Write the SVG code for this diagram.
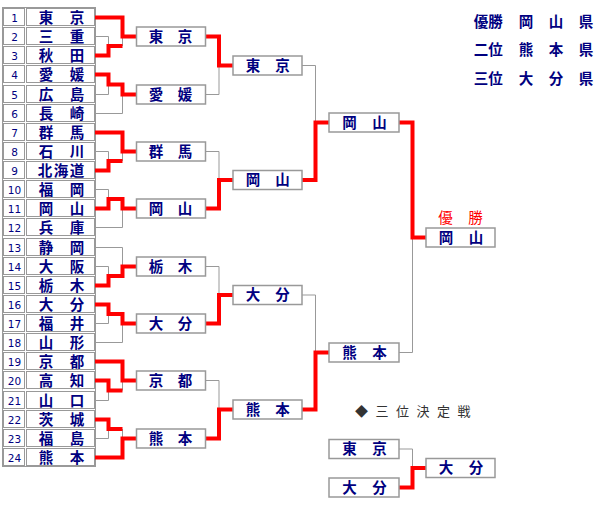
<svg xmlns="http://www.w3.org/2000/svg" width="600" height="510" viewBox="0 0 600 510">
<style>
.cell{fill:#fff;stroke:#999;stroke-width:1}
.box{fill:#fff;stroke:#999;stroke-width:1.5}
.num{font-family:"DejaVu Sans",sans-serif;font-size:10.5px;fill:#000080;text-anchor:middle}
.nm{font-family:"Noto Sans CJK JP",sans-serif;font-size:14.5px;font-weight:bold;fill:#000080;text-anchor:middle}
.lg{font-family:"Noto Sans CJK JP",sans-serif;font-size:14.5px;font-weight:bold;fill:#000080;text-anchor:middle}
.win{font-family:"Noto Sans CJK JP",sans-serif;font-size:14.5px;fill:#ff0000;text-anchor:middle}
.ttl{font-family:"Noto Sans CJK JP",sans-serif;font-size:13px;fill:#333;text-anchor:middle}
.g{fill:none;stroke:#999;stroke-width:1}
.r{fill:none;stroke:#ff0000;stroke-width:4;stroke-linejoin:miter}
</style>
<rect x="0" y="0" width="600" height="510" fill="#fff"/>

<!-- legend -->
<g id="legend">
<text class="lg" x="481 495.5 526 556 586" y="26.5">優勝岡山県</text>
<text class="lg" x="481 495.5 526 556 586" y="55">二位熊本県</text>
<text class="lg" x="481 495.5 526 556 586" y="83.5">三位大分県</text>
</g>

<!-- table -->
<g id="table">
<rect x="2.5" y="7.5" width="93" height="459" fill="#fff" stroke="#999"/>
<g id="team-1"><rect class="cell" x="3.5" y="8.5" width="21" height="17"/><rect class="cell" x="26.5" y="8.5" width="68" height="17"/><text class="num" x="14.5" y="21.5">1</text><text class="nm" x="46 77" y="22.5">東京</text></g>
<g id="team-2"><rect class="cell" x="3.5" y="27.5" width="21" height="17"/><rect class="cell" x="26.5" y="27.5" width="68" height="17"/><text class="num" x="14.5" y="40.5">2</text><text class="nm" x="46 77" y="41.5">三重</text></g>
<g id="team-3"><rect class="cell" x="3.5" y="46.5" width="21" height="17"/><rect class="cell" x="26.5" y="46.5" width="68" height="17"/><text class="num" x="14.5" y="59.5">3</text><text class="nm" x="46 77" y="60.5">秋田</text></g>
<g id="team-4"><rect class="cell" x="3.5" y="65.5" width="21" height="17"/><rect class="cell" x="26.5" y="65.5" width="68" height="17"/><text class="num" x="14.5" y="78.5">4</text><text class="nm" x="46 77" y="79.5">愛媛</text></g>
<g id="team-5"><rect class="cell" x="3.5" y="85.5" width="21" height="17"/><rect class="cell" x="26.5" y="85.5" width="68" height="17"/><text class="num" x="14.5" y="98.5">5</text><text class="nm" x="46 77" y="99.5">広島</text></g>
<g id="team-6"><rect class="cell" x="3.5" y="104.5" width="21" height="17"/><rect class="cell" x="26.5" y="104.5" width="68" height="17"/><text class="num" x="14.5" y="117.5">6</text><text class="nm" x="46 77" y="118.5">長崎</text></g>
<g id="team-7"><rect class="cell" x="3.5" y="123.5" width="21" height="17"/><rect class="cell" x="26.5" y="123.5" width="68" height="17"/><text class="num" x="14.5" y="136.5">7</text><text class="nm" x="46 77" y="137.5">群馬</text></g>
<g id="team-8"><rect class="cell" x="3.5" y="142.5" width="21" height="17"/><rect class="cell" x="26.5" y="142.5" width="68" height="17"/><text class="num" x="14.5" y="155.5">8</text><text class="nm" x="46 77" y="156.5">石川</text></g>
<g id="team-9"><rect class="cell" x="3.5" y="161.5" width="21" height="17"/><rect class="cell" x="26.5" y="161.5" width="68" height="17"/><text class="num" x="14.5" y="174.5">9</text><text class="nm" x="45 61 77" y="175.5">北海道</text></g>
<g id="team-10"><rect class="cell" x="3.5" y="180.5" width="21" height="17"/><rect class="cell" x="26.5" y="180.5" width="68" height="17"/><text class="num" x="14.5" y="193.5">10</text><text class="nm" x="46 77" y="194.5">福岡</text></g>
<g id="team-11"><rect class="cell" x="3.5" y="199.5" width="21" height="17"/><rect class="cell" x="26.5" y="199.5" width="68" height="17"/><text class="num" x="14.5" y="212.5">11</text><text class="nm" x="46 77" y="213.5">岡山</text></g>
<g id="team-12"><rect class="cell" x="3.5" y="218.5" width="21" height="17"/><rect class="cell" x="26.5" y="218.5" width="68" height="17"/><text class="num" x="14.5" y="231.5">12</text><text class="nm" x="46 77" y="232.5">兵庫</text></g>
<g id="team-13"><rect class="cell" x="3.5" y="238.5" width="21" height="17"/><rect class="cell" x="26.5" y="238.5" width="68" height="17"/><text class="num" x="14.5" y="251.5">13</text><text class="nm" x="46 77" y="252.5">静岡</text></g>
<g id="team-14"><rect class="cell" x="3.5" y="257.5" width="21" height="17"/><rect class="cell" x="26.5" y="257.5" width="68" height="17"/><text class="num" x="14.5" y="270.5">14</text><text class="nm" x="46 77" y="271.5">大阪</text></g>
<g id="team-15"><rect class="cell" x="3.5" y="276.5" width="21" height="17"/><rect class="cell" x="26.5" y="276.5" width="68" height="17"/><text class="num" x="14.5" y="289.5">15</text><text class="nm" x="46 77" y="290.5">栃木</text></g>
<g id="team-16"><rect class="cell" x="3.5" y="295.5" width="21" height="17"/><rect class="cell" x="26.5" y="295.5" width="68" height="17"/><text class="num" x="14.5" y="308.5">16</text><text class="nm" x="46 77" y="309.5">大分</text></g>
<g id="team-17"><rect class="cell" x="3.5" y="314.5" width="21" height="17"/><rect class="cell" x="26.5" y="314.5" width="68" height="17"/><text class="num" x="14.5" y="327.5">17</text><text class="nm" x="46 77" y="328.5">福井</text></g>
<g id="team-18"><rect class="cell" x="3.5" y="333.5" width="21" height="17"/><rect class="cell" x="26.5" y="333.5" width="68" height="17"/><text class="num" x="14.5" y="346.5">18</text><text class="nm" x="46 77" y="347.5">山形</text></g>
<g id="team-19"><rect class="cell" x="3.5" y="352.5" width="21" height="17"/><rect class="cell" x="26.5" y="352.5" width="68" height="17"/><text class="num" x="14.5" y="365.5">19</text><text class="nm" x="46 77" y="366.5">京都</text></g>
<g id="team-20"><rect class="cell" x="3.5" y="371.5" width="21" height="17"/><rect class="cell" x="26.5" y="371.5" width="68" height="17"/><text class="num" x="14.5" y="384.5">20</text><text class="nm" x="46 77" y="385.5">高知</text></g>
<g id="team-21"><rect class="cell" x="3.5" y="391.5" width="21" height="17"/><rect class="cell" x="26.5" y="391.5" width="68" height="17"/><text class="num" x="14.5" y="404.5">21</text><text class="nm" x="46 77" y="405.5">山口</text></g>
<g id="team-22"><rect class="cell" x="3.5" y="410.5" width="21" height="17"/><rect class="cell" x="26.5" y="410.5" width="68" height="17"/><text class="num" x="14.5" y="423.5">22</text><text class="nm" x="46 77" y="424.5">茨城</text></g>
<g id="team-23"><rect class="cell" x="3.5" y="429.5" width="21" height="17"/><rect class="cell" x="26.5" y="429.5" width="68" height="17"/><text class="num" x="14.5" y="442.5">23</text><text class="nm" x="46 77" y="443.5">福島</text></g>
<g id="team-24"><rect class="cell" x="3.5" y="448.5" width="21" height="17"/><rect class="cell" x="26.5" y="448.5" width="68" height="17"/><text class="num" x="14.5" y="461.5">24</text><text class="nm" x="46 77" y="462.5">熊本</text></g>
</g>

<!-- connectors -->
<g id="connectors">
<path class="g" d="M95,36.5H108.5V46M122.5,36.5V46"/>
<path class="g" d="M95,94.5H108.5V84.5M95,113.5H122.5V94.5"/>
<path class="g" d="M95,151.5H108.5V161M122.5,151.5V161"/>
<path class="g" d="M95,189.5H108.5V199M95,227.5H122.5V208.5"/>
<path class="g" d="M95,266.5H108.5V276M95,247.5H122.5V266.5"/>
<path class="g" d="M95,323.5H108.5V314M95,342.5H122.5V323.5"/>
<path class="g" d="M95,400.5H108.5V390.5M122.5,380.5V390.5"/>
<path class="g" d="M95,438.5H108.5V429M122.5,429V438.5"/>
<path class="g" d="M205.5,94.5H219V65.5"/>
<path class="g" d="M205.5,151.5H219V180"/>
<path class="g" d="M205.5,266.5H219V295"/>
<path class="g" d="M205.5,380.5H219V409.5"/>
<path class="g" d="M302,65.5H315.5V122.5"/>
<path class="g" d="M302,295H315.5V352.5"/>
<path class="g" d="M399,352.5H412.5V237.5"/>
<path class="g" d="M399,449H412.5V468"/>

<path class="r" d="M95,55.5H108.5V46H122.5"/>
<path class="r" d="M95,17.5H122.5V36.5H136.5"/>
<path class="r" d="M95,74.5H108.5V84.5H122.5V94.5H136.5"/>
<path class="r" d="M95,170.5H108.5V161H122.5"/>
<path class="r" d="M95,132.5H122.5V151.5H136.5"/>
<path class="r" d="M95,208.5H108.5V199H122.5V208.5H136.5"/>
<path class="r" d="M95,285.5H108.5V276H122.5V266.5H136.5"/>
<path class="r" d="M95,304.5H108.5V314H122.5V323.5H136.5"/>
<path class="r" d="M95,380.5H108.5V390.5H122.5"/>
<path class="r" d="M95,361.5H122.5V380.5H136.5"/>
<path class="r" d="M95,419.5H108.5V429H122.5"/>
<path class="r" d="M95,457.5H122.5V438.5H136.5"/>
<path class="r" d="M205.5,36.5H219V65.5H233"/>
<path class="r" d="M205.5,208.5H219V180H233"/>
<path class="r" d="M205.5,323.5H219V295H233"/>
<path class="r" d="M205.5,438.5H219V409.5H233"/>
<path class="r" d="M302,180H315.5V122.5H329"/>
<path class="r" d="M302,409.5H315.5V352.5H329"/>
<path class="r" d="M399,122.5H412.5V237.5H426"/>
<path class="r" d="M399,487.5H412.5V468H426"/>
</g>

<g id="r2-1"><rect class="box" x="136.5" y="27" width="69" height="19"/><text class="nm" x="156 185" y="41.5">東京</text></g>
<g id="r2-2"><rect class="box" x="136.5" y="85" width="69" height="19"/><text class="nm" x="156 185" y="99.5">愛媛</text></g>
<g id="r2-3"><rect class="box" x="136.5" y="142" width="69" height="19"/><text class="nm" x="156 185" y="156.5">群馬</text></g>
<g id="r2-4"><rect class="box" x="136.5" y="199" width="69" height="19"/><text class="nm" x="156 185" y="213.5">岡山</text></g>
<g id="r2-5"><rect class="box" x="136.5" y="257" width="69" height="19"/><text class="nm" x="156 185" y="271.5">栃木</text></g>
<g id="r2-6"><rect class="box" x="136.5" y="314" width="69" height="19"/><text class="nm" x="156 185" y="328.5">大分</text></g>
<g id="r2-7"><rect class="box" x="136.5" y="371" width="69" height="19"/><text class="nm" x="156 185" y="385.5">京都</text></g>
<g id="r2-8"><rect class="box" x="136.5" y="429" width="69" height="19"/><text class="nm" x="156 185" y="443.5">熊本</text></g>

<g id="r3-1"><rect class="box" x="233" y="56" width="69" height="19"/><text class="nm" x="253 282.5" y="70.5">東京</text></g>
<g id="r3-2"><rect class="box" x="233" y="170.5" width="69" height="19"/><text class="nm" x="253 282.5" y="185">岡山</text></g>
<g id="r3-3"><rect class="box" x="233" y="285.5" width="69" height="19"/><text class="nm" x="253 282.5" y="300">大分</text></g>
<g id="r3-4"><rect class="box" x="233" y="400" width="69" height="19"/><text class="nm" x="253 282.5" y="414.5">熊本</text></g>

<g id="sf-1"><rect class="box" x="329" y="113" width="70" height="19"/><text class="nm" x="349.5 379.5" y="127.5">岡山</text></g>
<g id="sf-2"><rect class="box" x="329" y="343" width="70" height="19"/><text class="nm" x="349.5 379.5" y="357.5">熊本</text></g>

<g id="champion">
<text class="win" x="445.5 475.5" y="223">優勝</text>
<rect class="box" x="426" y="228" width="69" height="19"/><text class="nm" x="446 476" y="242.5">岡山</text>
</g>

<g id="third-title"><text class="ttl" x="361.5 382 402.5 423 443.5 464" y="415.5">◆三位決定戦</text></g>
<g id="tp-1"><rect class="box" x="329" y="439.5" width="70" height="19"/><text class="nm" x="349.5 379.5" y="454">東京</text></g>
<g id="tp-2"><rect class="box" x="329" y="478" width="70" height="19"/><text class="nm" x="349.5 379.5" y="492.5">大分</text></g>
<g id="tp-win"><rect class="box" x="426" y="458.5" width="69" height="19"/><text class="nm" x="446 476" y="473">大分</text></g>
</svg>
